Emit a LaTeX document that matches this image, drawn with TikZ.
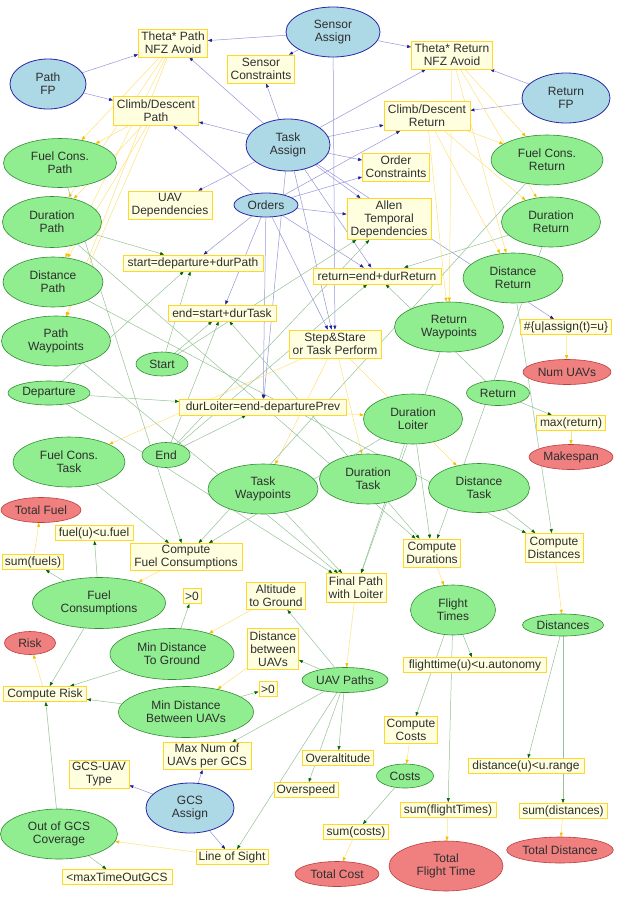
\documentclass[tikz,border=0pt]{standalone}
\usepackage{fontspec}
\setmainfont{Liberation Sans}
\usetikzlibrary{shapes.geometric,arrows.meta,backgrounds}
\definecolor{bfill}{RGB}{173,216,230}
\definecolor{bdraw}{RGB}{40,40,165}
\definecolor{gfill}{RGB}{144,238,144}
\definecolor{gdraw}{RGB}{50,140,50}
\definecolor{rfill}{RGB}{240,128,128}
\definecolor{rdraw}{RGB}{190,60,60}
\definecolor{yfill}{RGB}{255,255,224}
\definecolor{ydraw}{RGB}{255,215,40}
\definecolor{blline}{RGB}{150,150,218}
\definecolor{bhead}{RGB}{30,30,150}
\definecolor{gline}{RGB}{150,195,150}
\definecolor{ghead}{RGB}{0,100,0}
\definecolor{yline}{RGB}{255,226,120}
\definecolor{yhead}{RGB}{245,190,0}
\tikzset{
  base/.style={font=\fontsize{12}{13}\selectfont, align=center, inner sep=0pt, text=black!82},
  bell/.style 2 args={base, ellipse, draw=bdraw, fill=bfill, line width=0.8pt, minimum width=#1pt, minimum height=#2pt},
  gell/.style 2 args={base, ellipse, draw=gdraw, fill=gfill, line width=0.6pt, minimum width=#1pt, minimum height=#2pt},
  rell/.style 2 args={base, ellipse, draw=rdraw, fill=rfill, line width=0.6pt, minimum width=#1pt, minimum height=#2pt},
  yb/.style 2 args={base, rectangle, draw=ydraw, fill=yfill, line width=0.8pt, minimum width=#1pt, minimum height=#2pt},
  bl/.style={draw=blline, line width=0.5pt, -{Triangle[length=4pt,width=3pt,color=bhead]}},
  gl/.style={draw=gline, line width=0.5pt, -{Triangle[length=4pt,width=3pt,color=ghead]}},
  yl/.style={draw=yline, line width=0.5pt, -{Triangle[length=4pt,width=3pt,color=yhead]}},
}
\begin{document}
\begin{tikzpicture}[x=1pt,y=-1pt]
\useasboundingbox (0,0) rectangle (640,908);
% blue
\node[bell={94}{50}] (sa) at (333,32) {Sensor\\Assign};
\node[bell={76}{50}] (pfp) at (48,84) {Path\\FP};
\node[bell={88}{50}] (rfp) at (566,98) {Return\\FP};
\node[bell={84}{52}] (ta) at (288,145) {Task\\Assign};
\node[bell={64}{24}] (ord) at (266,205) {Orders};
\node[bell={88}{50}] (gcs) at (190,808) {GCS\\Assign};
% yellow boxes
\node[yb={69}{28}] (tp) at (173,43) {Theta* Path\\NFZ Avoid};
\node[yb={67}{28}] (sc) at (261,69) {Sensor\\Constraints};
\node[yb={81}{28}] (tr) at (452,55) {Theta* Return\\NFZ Avoid};
\node[yb={85}{29}] (cp) at (156,111) {Climb/Descent\\Path};
\node[yb={86}{29}] (cr) at (427,116) {Climb/Descent\\Return};
\node[yb={67}{28}] (oc) at (396,167) {Order\\Constraints};
\node[yb={84}{28}] (ud) at (170,205) {UAV\\Dependencies};
\node[yb={84}{41}] (al) at (389,219) {Allen\\Temporal\\Dependencies};
\node[yb={140}{16}] (sb) at (193,263) {start=departure+durPath};
\node[yb={128}{16}] (rb) at (377,276) {return=end+durReturn};
\node[yb={108}{16}] (eb) at (222,313) {end=start+durTask};
\node[yb={92}{28}] (ss) at (335,344) {Step\&Stare\\or Task Perform};
\node[yb={91}{15}] (nu) at (566,327) {\#\{u|assign(t)=u\}};
\node[yb={167}{16}] (dl) at (263,407) {durLoiter=end-departurePrev};
\node[yb={69}{15}] (mr) at (571,423) {max(return)};
\node[yb={112}{27}] (cfc) at (186,557) {Compute\\Fuel Consumptions};
\node[yb={78}{15}] (fu) at (94,533) {fuel(u)<u.fuel};
\node[yb={61}{15}] (sf) at (33,562) {sum(fuels)};
\node[yb={57}{28}] (cd) at (432,553) {Compute\\Durations};
\node[yb={58}{29}] (cdi) at (554,548) {Compute\\Distances};
\node[yb={60}{29}] (fp) at (356,588) {Final Path\\with Loiter};
\node[yb={18}{15}] (gz1) at (192,596) {>0};
\node[yb={59}{27}] (atg) at (276,596) {Altitude\\to Ground};
\node[yb={51}{41}] (dbu) at (273,649) {Distance\\between\\UAVs};
\node[yb={18}{15}] (gz2) at (268,689) {>0};
\node[yb={83}{15}] (cri) at (45,694) {Compute Risk};
\node[yb={88}{27}] (mnu) at (207,756) {Max Num of\\UAVs per GCS};
\node[yb={60}{28}] (gut) at (99,774) {GCS-UAV\\Type};
\node[yb={71}{15}] (oa) at (338,758) {Overaltitude};
\node[yb={64}{15}] (os) at (306,790) {Overspeed};
\node[yb={72}{15}] (los) at (232,857) {Line of Sight};
\node[yb={110}{15}] (mto) at (117,877) {<maxTimeOutGCS};
\node[yb={143}{15}] (fta) at (475,665) {flighttime(u)<u.autonomy};
\node[yb={53}{27}] (cc) at (411,730) {Compute\\Costs};
\node[yb={116}{15}] (dur) at (526,766) {distance(u)<u.range};
\node[yb={96}{15}] (sft) at (448,810) {sum(flightTimes)};
\node[yb={88}{15}] (sd) at (563,811) {sum(distances)};
\node[yb={65}{15}] (scs) at (356,832) {sum(costs)};
% green
\node[gell={113}{49}] (fcp) at (60,163) {Fuel Cons.\\Path};
\node[gell={99}{51}] (dp) at (52,222) {Duration\\Path};
\node[gell={100}{50}] (dsp) at (53,282) {Distance\\Path};
\node[gell={109}{50}] (pw) at (56,341) {Path\\Waypoints};
\node[gell={52}{24}] (st) at (162,364) {Start};
\node[gell={82}{24}] (dep) at (49,393) {Departure};
\node[gell={112}{50}] (ftk) at (69,462) {Fuel Cons.\\Task};
\node[gell={48}{25}] (en) at (166,455) {End};
\node[gell={110}{50}] (tw) at (263,489) {Task\\Waypoints};
\node[gell={133}{51}] (fc) at (99,603) {Fuel\\Consumptions};
\node[gell={124}{51}] (mdg) at (172,654) {Min Distance\\To Ground};
\node[gell={135}{51}] (mdu) at (186,712) {Min Distance\\Between UAVs};
\node[gell={117}{50}] (oog) at (59,834) {Out of GCS\\Coverage};
\node[gell={86}{25}] (up) at (345,680) {UAV Paths};
\node[gell={85}{50}] (ft) at (453,610) {Flight\\Times};
\node[gell={81}{22}] (dis) at (563,625) {Distances};
\node[gell={57}{24}] (co) at (405,776) {Costs};
\node[gell={112}{50}] (fcr) at (547,160) {Fuel Cons.\\Return};
\node[gell={99}{50}] (dr) at (551,222) {Duration\\Return};
\node[gell={100}{50}] (dsr) at (513,278) {Distance\\Return};
\node[gell={109}{50}] (rw) at (449,327) {Return\\Waypoints};
\node[gell={63}{25}] (ret) at (498,393) {Return};
\node[gell={99}{50}] (dlo) at (413,419) {Duration\\Loiter};
\node[gell={97}{50}] (dt) at (368,479) {Duration\\Task};
\node[gell={101}{49}] (dst) at (479,488) {Distance\\Task};
% red
\node[rell={80}{25}] (tf) at (41,510) {Total Fuel};
\node[rell={51}{23}] (risk) at (30,643) {Risk};
\node[rell={88}{25}] (num) at (567,372) {Num UAVs};
\node[rell={84}{25}] (mk) at (571,457) {Makespan};
\node[rell={84}{25}] (tc) at (337,874) {Total Cost};
\node[rell={114}{50}] (tft) at (446,866) {Total\\Flight Time};
\node[rell={106}{26}] (td) at (560,850) {Total Distance};
\begin{pgfonlayer}{background}
\fill[white] (0,0) rectangle (640,908);
\foreach \a/\b in {sa/tp,sa/sc,sa/tr,sa/ss,pfp/tp,pfp/cp,rfp/tr,rfp/cr,
  ta/tp,ta/sc,ta/cp,ta/tr,ta/cr,ta/oc,ta/ud,ta/al,ta/rb,ta/ss,ta/dl,ta/nu,
  ord/oc,ord/al,ord/sb,ord/eb,ord/rb,ord/ss,ord/dl,ord/cp,ord/cr,
  gcs/gut,gcs/mnu,gcs/los}
  \draw[bl] (\a) -- (\b);
\foreach \a/\b in {tp/fcp,tp/dp,tp/dsp,tp/pw,cp/fcp,cp/dp,cp/dsp,cp/pw,
  tr/fcr,tr/dr,tr/dsr,tr/rw,cr/fcr,cr/dr,cr/dsr,cr/rw,
  ss/ftk,ss/tw,ss/dt,ss/dst,dl/dlo,nu/num,mr/mk,sf/tf,cfc/fc,cd/ft,cdi/dis,
  fp/up,atg/mdg,dbu/mdu,cri/risk,los/oog,cc/co,scs/tc,sft/tft,sd/td}
  \draw[yl] (\a) -- (\b);
\foreach \a/\b in {dp/sb,dep/sb,st/sb,st/eb,en/eb,dt/eb,en/rb,dr/rb,ret/rb,
  dep/dl,en/dl,st/al,en/al,fcp/cfc,ftk/cfc,fcr/cfc,dlo/cfc,
  dp/cd,dt/cd,dlo/cd,dr/cd,dsp/cdi,dst/cdi,dsr/cdi,
  pw/fp,dep/fp,tw/fp,rw/fp,dlo/fp,ret/mr,
  fc/fu,fc/sf,fc/cri,mdg/gz1,mdg/cri,mdu/gz2,mdu/cri,oog/cri,oog/mto,
  up/atg,up/dbu,up/mnu,up/oa,up/os,up/los,
  ft/fta,ft/cc,ft/sft,dis/dur,dis/sd,co/scs}
  \draw[gl] (\a) -- (\b);
\end{pgfonlayer}
\end{tikzpicture}
\end{document}
